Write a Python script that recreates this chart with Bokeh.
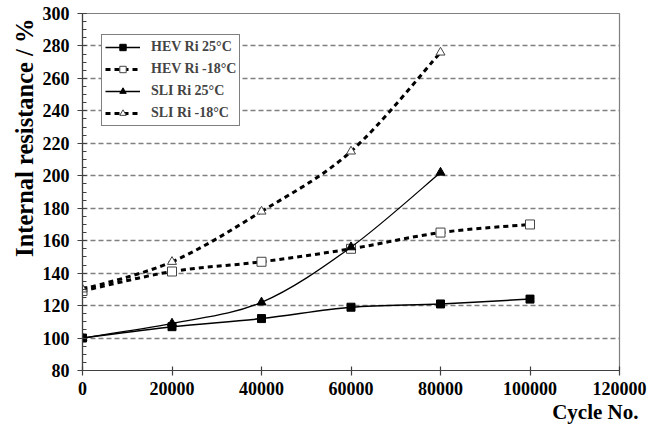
import numpy as np
from bokeh.plotting import figure
from bokeh.models import (Range1d, Legend, LegendItem, Title, FixedTicker,
                          ColumnDataSource, BasicTickFormatter)
from bokeh.embed import file_html
from bokeh.resources import INLINE

# ---- data ----
hev_cycles = [0, 20000, 40000, 60000, 80000, 100000]
sli_cycles = [0, 20000, 40000, 60000, 80000]
hev_25 = [100, 107, 112, 119, 121, 124]
hev_m18 = [129, 141, 147, 155, 165, 170]
sli_25 = [100, 109, 122, 156, 202]
sli_m18 = [130, 147, 178, 215, 276]
series_names = ["HEV Ri 25°C", "HEV Ri -18°C", "SLI Ri 25°C", "SLI Ri -18°C"]
x_ticks = [0, 20000, 40000, 60000, 80000, 100000, 120000]
y_ticks = [80, 100, 120, 140, 160, 180, 200, 220, 240, 260, 280, 300]

FONT = "Liberation Serif"


def smooth_source(xs, ys):
    """Catmull-Rom style smoothing expressed as cubic Bezier segments
    between consecutive data points (like a spreadsheet 'smoothed line')."""
    xs = np.asarray(xs, float)
    ys = np.asarray(ys, float)
    n = len(xs)
    d = dict(x0=[], y0=[], x1=[], y1=[], cx0=[], cy0=[], cx1=[], cy1=[])
    for i in range(n - 1):
        a = max(i - 1, 0)
        b = min(i + 2, n - 1)
        d["x0"].append(xs[i]); d["y0"].append(ys[i])
        d["x1"].append(xs[i + 1]); d["y1"].append(ys[i + 1])
        d["cx0"].append(xs[i] + (xs[i + 1] - xs[a]) / 6)
        d["cy0"].append(ys[i] + (ys[i + 1] - ys[a]) / 6)
        d["cx1"].append(xs[i + 1] - (xs[b] - xs[i]) / 6)
        d["cy1"].append(ys[i + 1] - (ys[b] - ys[i]) / 6)
    return ColumnDataSource(d)


p = figure(width=651, height=426,
           x_range=Range1d(0, 120000), y_range=Range1d(80, 300),
           output_backend="svg", toolbar_location=None,
           min_border_left=82, min_border_right=32,
           min_border_top=13, min_border_bottom=56)

p.background_fill_color = "white"
p.border_fill_color = "white"
p.outline_line_color = "#7f7f7f"
p.outline_line_width = 1.2

p.xgrid.visible = False
p.ygrid.ticker = FixedTicker(ticks=y_ticks)
p.ygrid.grid_line_color = "#7f7f7f"
p.ygrid.grid_line_width = 1.6
p.ygrid.grid_line_dash = "5 3"

p.xaxis.ticker = FixedTicker(ticks=x_ticks)
p.xaxis.formatter = BasicTickFormatter(use_scientific=False)
p.yaxis.ticker = FixedTicker(ticks=y_ticks,
                             minor_ticks=list(range(80, 301, 5)))
for ax in (p.xaxis, p.yaxis):
    ax.axis_line_color = "#404040"
    ax.axis_line_width = 1.2
    ax.major_tick_line_color = "#404040"
    ax.major_tick_line_width = 1.2
    ax.major_tick_in = 4
    ax.major_tick_out = 5
    ax.major_label_text_font = FONT
    ax.major_label_text_font_style = "bold"
    ax.major_label_text_font_size = "18px"
    ax.major_label_text_color = "black"
p.xaxis.minor_tick_line_color = None
p.yaxis.minor_tick_line_color = "#404040"
p.yaxis.minor_tick_in = 4
p.yaxis.minor_tick_out = 0
p.xaxis.major_label_standoff = 6
p.yaxis.major_label_standoff = 8

# ---- series ----
specs = [
    (hev_cycles, hev_25, "solid", 1.5, "square", "black", 8),
    (hev_cycles, hev_m18, "5 4", 3, "square", "white", 9),
    (sli_cycles, sli_25, "solid", 1.3, "triangle", "black", 9),
    (sli_cycles, sli_m18, "5 4", 3, "triangle", "white", 9),
]
items = []
for (xs, ys, dash, lw, mk, fill, sz), name in zip(specs, series_names):
    src = smooth_source(xs, ys)
    r_line = p.bezier(x0="x0", y0="y0", x1="x1", y1="y1",
                      cx0="cx0", cy0="cy0", cx1="cx1", cy1="cy1",
                      source=src, line_color="black", line_width=lw,
                      line_dash=dash)
    r_pts = p.scatter(xs, ys, marker=mk, size=sz, fill_color=fill,
                      line_color="black" if fill == "black" else "#444444",
                      line_width=1)
    items.append(LegendItem(label=name, renderers=[r_line, r_pts]))

legend = Legend(items=items, location=(19, 244))
legend.border_line_color = "black"
legend.border_line_width = 1
legend.background_fill_color = "white"
legend.background_fill_alpha = 1
legend.label_text_font = FONT
legend.label_text_font_style = "bold"
legend.label_text_font_size = "14px"
legend.glyph_width = 35
legend.glyph_height = 16
legend.label_height = 18
legend.spacing = 4
legend.padding = 3
legend.margin = 0
legend.label_standoff = 11
p.add_layout(legend, "center")

# ---- axis titles (as side-panel titles so they are not clipped) ----
ytitle = Title(text="Internal resistance / %", align="right", offset=5,
               text_font=FONT, text_font_style="bold",
               text_font_size="24.5px", text_color="black", standoff=3)
xtitle = Title(text="Cycle No.", align="right", offset=-19,
               text_font=FONT, text_font_style="bold",
               text_font_size="21px", text_color="black", standoff=1)
p.add_layout(ytitle, "left")
p.add_layout(xtitle, "below")

open("out.html", "w").write(file_html(p, INLINE))
